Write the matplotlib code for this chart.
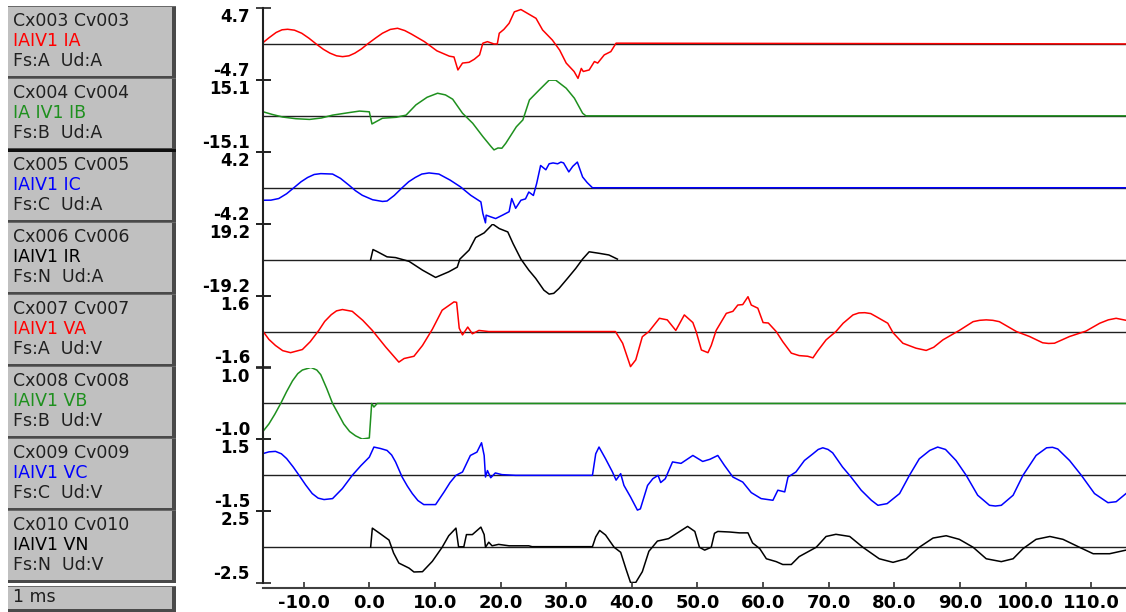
import matplotlib
matplotlib.use("Agg")
import matplotlib.pyplot as plt
from matplotlib.patches import Rectangle

W, H = 1126, 612

# panel captions for each recorded channel
cx_labels = ["Cx003 Cv003", "Cx004 Cv004", "Cx005 Cv005", "Cx006 Cv006",
             "Cx007 Cv007", "Cx008 Cv008", "Cx009 Cv009", "Cx010 Cv010"]
signal_names = ["IAIV1 IA", "IA IV1 IB", "IAIV1 IC", "IAIV1 IR",
                "IAIV1 VA", "IAIV1 VB", "IAIV1 VC", "IAIV1 VN"]
phase_units = ["Fs:A  Ud:A", "Fs:B  Ud:A", "Fs:C  Ud:A", "Fs:N  Ud:A",
               "Fs:A  Ud:V", "Fs:B  Ud:V", "Fs:C  Ud:V", "Fs:N  Ud:V"]
full_scale = [4.7, 15.1, 4.2, 19.2, 1.6, 1.0, 1.5, 2.5]
colors = ["#ff0000", "#1e901e", "#0000ff", "#000000",
          "#ff0000", "#1e901e", "#0000ff", "#000000"]
time_ticks = [-10, 0, 10, 20, 30, 40, 50, 60, 70, 80, 90, 100, 110]
time_range = (-16.2, 115.3)

# recorded traces, time in ms
ia_t = [-16.3, -15.3, -14.2, -13.3, -12.45, -11.4, -10.3, -9.2, -8.1, -7.0, -6.0,
        -5.0, -4.07, -3.1, -2.2, -1.2, -0.26, 1.0, 2.0, 3.2, 4.3, 5.4, 6.4, 7.4,
        8.4, 10.3, 12.2, 12.9, 13.5, 14.2, 15.2, 16.0, 16.8, 17.3, 18.0, 19.0, 19.5,
        19.8, 20.5, 21.3, 22.1, 23.1, 24.1, 25.4, 26.4, 27.9, 29.0, 30.0, 31.2, 31.8,
        32.3, 32.6, 33.5, 34.3, 34.8, 35.8, 36.8, 37.6, 115.3]
ia_v = [0.1, 0.8, 1.5, 1.85, 1.92, 1.8, 1.4, 0.75, 0.0, -0.7, -1.2,
        -1.55, -1.66, -1.55, -1.2, -0.65, 0.0, 0.8, 1.4, 1.9, 2.05, 1.75, 1.3, 0.8,
        0.3, -0.9, -1.6, -1.7, -3.4, -2.5, -2.4, -2.0, -1.43, 0.1, 0.3, 0.0, 0.0,
        1.4, 1.9, 2.7, 4.2, 4.5, 4.0, 3.35, 1.83, 0.5, -0.8, -2.5, -3.6, -4.5,
        -3.2, -3.6, -3.4, -2.3, -2.5, -1.43, -1.0, 0.1, 0.0]

ib_t = [-16.3, -14.8, -13.2, -11.2, -9.1, -7.3, -5.6, -3.0, -1.5, 0.0, 0.4, 2.0,
        4.1, 5.6, 7.1, 8.8, 10.4, 11.6, 12.7, 14.2, 15.75, 17.3, 18.55, 19.0, 19.6,
        20.2, 20.8, 22.4, 23.4, 24.4, 25.9, 27.4, 28.4, 30.0, 31.25, 32.5, 33.0,
        115.3]
ib_v = [1.8, 0.6, -0.5, -1.2, -1.5, -0.9, 0.3, 1.4, 2.0, 1.7, -3.4, -1.0,
        -0.6, 0.3, 4.6, 7.8, 9.5, 8.8, 7.0, 1.1, -3.1, -8.7, -12.9, -14.3, -13.5,
        -13.6, -11.5, -4.6, -1.7, 6.7, 10.9, 15.0, 15.0, 11.6, 7.4, 1.1, 0.0,
        0.0]

ic_t = [-16.3, -15.0, -13.8, -12.6, -11.5, -10.4, -9.4, -8.4, -7.4, -5.6, -4.4,
        -3.1, -2.1, -1.07, 0.5, 2.0, 2.7, 3.8, 5.0, 6.0, 7.0, 8.0, 9.1, 10.6, 12.3,
        13.9, 15.45, 17.0, 17.3, 17.7, 17.8, 18.5, 19.25, 20.3, 21.3, 21.7, 22.3,
        23.1, 23.8, 24.3, 25.0, 25.5, 26.1, 26.9, 27.4, 28.0, 28.7, 29.2, 29.6,
        30.4, 31.0, 31.7, 32.5, 33.2, 34.0, 115.3]
ic_v = [-1.46, -1.45, -1.26, -0.7, 0.0, 0.7, 1.2, 1.55, 1.65, 1.6, 1.1,
        0.3, -0.35, -0.88, -1.4, -1.6, -1.55, -0.9, 0.0, 0.7, 1.2, 1.6, 1.73, 1.6, 0.9,
        0.1, -0.88, -1.65, -3.0, -4.1, -3.2, -3.4, -3.6, -3.2, -2.8, -1.26, -2.4,
        -1.46, -1.3, -0.5, -0.9, 0.5, 2.6, 2.1, 2.8, 2.9, 2.8, 3.0, 2.9,
        1.85, 2.5, 3.0, 1.26, 0.6, 0.0, 0.0]

ir_t = [0.2, 0.56, 1.2, 2.7, 4.0, 6.05, 8.1, 10.1, 12.1, 13.4, 13.8, 15.2, 16.2,
        17.5, 18.8, 19.8, 21.1, 21.9, 23.1, 24.3, 25.35, 26.6, 27.4, 28.1, 28.9,
        30.2, 31.45, 32.5, 33.5, 35.0, 36.5, 37.8]
ir_v = [0.0, 5.4, 4.3, 1.5, 1.1, -0.9, -5.6, -9.5, -6.5, -4.0, 0.3, 5.1, 11.8,
        14.3, 19.0, 16.6, 14.8, 8.6, 0.3, -5.6, -10.0, -16.3, -18.4, -18.0, -15.4,
        -10.0, -4.7, 0.3, 4.2, 3.4, 2.5, 0.3]

va_t = [-16.3, -15.3, -14.3, -13.2, -12.0, -10.2, -9.0, -7.7, -6.8, -5.8, -5.0,
        -4.1, -2.6, -1.8, -1.0, 0.46, 2.5, 4.5,
        5.3, 6.8, 8.1, 9.6, 11.1, 12.9, 13.3, 13.7, 14.2, 15.0, 15.7, 16.7, 18.2,
        37.5, 38.6, 39.8, 40.6, 41.6, 42.6, 44.2, 45.4, 46.7, 48.0, 49.3, 49.8,
        50.6, 51.6, 52.1, 52.85, 54.4, 55.4, 56.15, 56.9, 57.7, 58.2, 59.2, 60.0,
        60.8, 62.0, 63.0, 64.3, 65.5, 66.8, 67.6, 68.3, 69.6, 71.1, 72.2, 73.7,
        74.6, 75.5, 76.4, 77.2, 79.0, 79.8, 81.3, 83.3, 84.85, 86.0, 87.4, 89.9,
        92.0, 93.0, 94.0, 95.0, 96.0, 98.6, 100.6, 102.6, 103.5, 104.4, 106.7,
        109.2, 111.3, 112.6, 113.8, 115.3]
va_v = [0.05, -0.35, -0.62, -0.85, -0.94, -0.8, -0.45, 0.05, 0.45, 0.75, 0.92,
        0.98, 0.9, 0.7, 0.5, 0.05, -0.69, -1.36,
        -1.2, -1.1, -0.62, 0.1, 0.95, 1.32, 1.3, 0.15, -0.15, 0.2, -0.1, 0.05, 0.0,
        0.0, -0.52, -1.56, -1.26, -0.23, 0.0, 0.59, 0.52, 0.05, 0.74, 0.4, 0.0,
        -0.82, -0.94, -0.62, 0.05, 0.81, 0.9, 1.18, 1.2, 1.55, 1.18, 1.04, 0.4,
        0.38, 0.0, -0.45, -0.96, -1.07, -1.1, -1.17, -0.87, -0.37, 0.0, 0.37, 0.74,
        0.83, 0.84, 0.8, 0.67, 0.37, -0.05, -0.52, -0.74, -0.84, -0.7, -0.37, 0.05,
        0.44, 0.5, 0.52, 0.5, 0.44, 0.0, -0.22, -0.5, -0.53, -0.52, -0.22,
        0.02, 0.37, 0.52, 0.59, 0.5]

vb_t = [-16.3, -15.3, -14.4, -13.5, -12.6, -11.7, -10.9, -10.2, -8.9, -8.0, -7.4,
        -6.5, -5.6, -4.7, -3.9, -3.0, -2.1, -1.1, 0.0, 0.36, 0.7, 1.2, 115.3]
vb_v = [-0.8, -0.57, -0.3, 0.0, 0.33, 0.63, 0.83, 0.93, 1.0, 0.93, 0.8,
        0.42, 0.0, -0.3, -0.57, -0.78, -0.9, -0.99, -0.96, 0.0, -0.1, 0.0, 0.0]

vc_t = [-16.3, -15.3, -14.3, -13.4, -12.6, -11.6, -10.7, -9.7, -8.7, -7.8, -6.9,
        -5.6, -4.1, -2.6, -1.3, 0.0, 0.7, 1.7, 2.7, 3.4, 4.0, 5.0, 5.8, 6.55, 7.4,
        8.3, 10.1, 11.4, 12.3, 13.2, 14.2, 15.4, 16.4, 17.1, 17.5, 17.7, 18.0, 18.5,
        19.2, 20.2, 22.3, 34.0, 34.5, 35.0, 36.0, 37.05, 37.6, 38.3, 38.8, 39.8,
        40.85, 41.3, 42.4, 43.2, 44.0, 44.4, 45.1, 46.2, 47.5, 49.3, 50.8, 51.9,
        53.1, 54.1, 55.4, 56.9, 58.2, 59.7, 61.5, 62.25, 63.3, 63.8, 65.0, 66.3,
        67.6, 68.4, 69.1, 69.9, 70.6, 72.1, 73.4, 74.95, 76.5, 77.5, 78.9, 80.8,
        82.3, 83.8, 85.4, 86.6, 87.8, 89.4, 90.95, 92.7, 94.5, 95.4, 96.3, 98.1,
        99.6, 101.6, 103.2, 104.1, 104.9, 106.7, 108.5, 110.5, 112.55, 113.8, 115.3]
vc_v = [0.9, 0.98, 1.0, 0.9, 0.7, 0.35, 0.0, -0.4, -0.76, -0.95, -1.01,
        -0.97, -0.55, 0.0, 0.4, 0.76, 1.18, 1.12, 1.04, 0.85, 0.56, -0.07, -0.45, -0.76, -1.05,
        -1.22, -1.22, -0.69, -0.3, 0.0, 0.14, 0.83, 0.97, 1.36, 0.83, -0.07, 0.2, -0.1,
        0.1, 0.03, 0.0, 0.0, 0.9, 1.18, 0.69, 0.14, -0.2, 0.07, -0.42, -0.9,
        -1.45, -1.4, -0.42, -0.14, 0.0, -0.3, -0.14, 0.56, 0.5, 0.83, 0.58, 0.67,
        0.83, 0.42, -0.07, -0.28, -0.72, -0.97, -1.04, -0.62, -0.69, -0.07, 0.14, 0.62,
        0.9, 1.08, 1.15, 1.08, 0.94, 0.35, -0.07, -0.62, -1.04, -1.25, -1.18, -0.76,
        0.0, 0.69, 1.04, 1.18, 1.08, 0.62, 0.0, -0.83, -1.25, -1.28, -1.25, -0.83,
        0.0, 0.83, 1.15, 1.17, 1.1, 0.62, 0.0, -0.76, -1.14, -1.1, -0.76]

vn_t = [0.2, 0.46, 1.7, 3.0, 3.7, 4.5, 6.05, 6.8, 8.1, 9.6, 11.1, 12.1, 13.2, 13.6,
        14.4, 14.8, 15.7, 17.0, 17.5, 17.7, 18.2, 18.7, 19.7, 21.3, 24.3, 24.8,
        34.0, 34.5, 35.1, 36.0, 37.3, 38.3, 39.1, 39.8, 40.6, 41.6, 42.6, 43.9,
        45.6, 47.3, 48.5, 49.6, 50.3, 51.1, 52.1, 52.6, 53.1, 54.9, 56.4, 57.7,
        58.4, 59.5, 60.5, 62.0, 63.0, 64.3, 65.5, 68.1, 69.6, 71.1, 73.2, 75.2,
        77.7, 79.8, 81.8, 83.8, 85.9, 87.9, 89.9, 92.0, 94.0, 96.3, 98.1, 99.6,
        101.6, 103.7, 105.7, 108.2, 110.3, 112.8, 115.3]
vn_v = [0.0, 1.33, 0.93, 0.5, -0.4, -1.1, -1.45, -1.72, -1.7, -0.98, 0.0, 0.8, 1.33, 0.03,
        0.03, 0.88, 0.88, 1.4, 0.88, 0.0, 0.35, 0.1, 0.2, 0.1, 0.1, 0.04,
        0.04, 0.72, 1.17, 0.85, 0.0, -0.35, -1.5, -2.45, -2.45, -1.7, -0.28, 0.43,
        0.6, 1.1, 1.45, 1.1, 0.0, -0.2, 0.0, 0.97, 1.1, 1.06, 1.0, 1.0,
        0.3, -0.1, -0.8, -1.0, -1.2, -1.2, -0.65, 0.0, 0.75, 0.9, 0.75, 0.0,
        -0.8, -1.05, -0.8, 0.0, 0.64, 0.8, 0.55, 0.0, -0.8, -1.0, -0.8, -0.1,
        0.55, 0.75, 0.55, 0.0, -0.45, -0.45, -0.2]

traces = [(ia_t, ia_v), (ib_t, ib_v), (ic_t, ic_v), (ir_t, ir_v),
          (va_t, va_v), (vb_t, vb_v), (vc_t, vc_v), (vn_t, vn_v)]

BAND_TOP = 8
BAND_H = 71.9
AX_LEFT = 263
AXIS_Y = 588


def fig_rect(x0, y0, w, h):
    # pixel box (top-left origin) -> figure fraction rect
    return [x0 / W, 1 - (y0 + h) / H, w / W, h / H]


def draw_panel(bg):
    for k in range(8):
        top = 7 + 72 * k
        bg.add_patch(Rectangle((8, top - 1), 168, 1.2, fc="#6a6a6a", ec="none"))
        bg.add_patch(Rectangle((8, top), 165, 69, fc="#c0c0c0", ec="none"))
        bg.add_patch(Rectangle((172, top), 4, 71.5, fc="#4a4a4a", ec="none"))
        bg.add_patch(Rectangle((8, top + 68.5), 168, 3, fc="#4a4a4a", ec="none"))
        bg.text(13, top + 13.5, cx_labels[k], va="center", ha="left",
                fontsize=12.5, color="#202020")
        bg.text(13, top + 34, signal_names[k], va="center", ha="left",
                fontsize=12.5, color=colors[k])
        bg.text(13, top + 54.5, phase_units[k], va="center", ha="left",
                fontsize=12.5, color="#202020")
    # heavier separator above the third channel
    bg.add_patch(Rectangle((8, 149), 168, 3, fc="#101010", ec="none"))
    # time base box
    bg.add_patch(Rectangle((8, 586), 168, 1.2, fc="#6a6a6a", ec="none"))
    bg.add_patch(Rectangle((8, 587), 165, 22, fc="#c0c0c0", ec="none"))
    bg.add_patch(Rectangle((172, 587), 4, 24, fc="#4a4a4a", ec="none"))
    bg.add_patch(Rectangle((8, 608.5), 168, 3, fc="#4a4a4a", ec="none"))
    bg.text(13, 597.5, "1 ms", va="center", ha="left", fontsize=12.5, color="#202020")


def draw_channel(fig, k):
    top = BAND_TOP + BAND_H * k
    ax = fig.add_axes(fig_rect(AX_LEFT, top, W - AX_LEFT, BAND_H))
    ax.set_facecolor("none")
    m = full_scale[k]
    t, v = traces[k]
    ax.axhline(0, color="#202020", lw=1.0, zorder=1)
    ax.plot(t, v, color=colors[k], lw=1.1, zorder=2)
    ax.set_xlim(*time_range)
    ax.set_ylim(-m, m)
    for side in ("top", "right", "bottom"):
        ax.spines[side].set_visible(False)
    ax.spines["left"].set_color("#202020")
    ax.spines["left"].set_linewidth(1.5)
    ax.set_xticks([])
    ax.set_yticks([-m, m])
    labels = ax.set_yticklabels([f"-{m:.1f}", f"{m:.1f}"], fontweight="bold")
    labels[0].set_va("bottom")
    labels[1].set_va("top")
    ax.tick_params(axis="y", direction="inout", length=10.8, width=1.2,
                   color="#202020", pad=4, labelsize=12)
    return ax


def draw_time_axis(fig):
    ax = fig.add_axes(fig_rect(AX_LEFT, AXIS_Y - 1, W - AX_LEFT, 1))
    ax.set_facecolor("none")
    ax.set_xlim(*time_range)
    ax.set_yticks([])
    for side in ("top", "right", "left"):
        ax.spines[side].set_visible(False)
    ax.spines["bottom"].set_color("#404040")
    ax.spines["bottom"].set_linewidth(1.5)
    ax.set_xticks(time_ticks)
    ax.set_xticklabels([f"{x:.1f}" for x in time_ticks], fontweight="bold")
    ax.tick_params(axis="x", direction="in", length=4.5, width=1.2,
                   color="#303030", pad=4, labelsize=13)
    zero_tick = ax.xaxis.get_major_ticks()[time_ticks.index(0)]
    zero_tick.tick1line.set_color("#ff0000")


def main():
    fig = plt.figure(figsize=(W / 100, H / 100), dpi=100)
    fig.patch.set_facecolor("white")
    bg = fig.add_axes([0, 0, 1, 1])
    bg.set_xlim(0, W)
    bg.set_ylim(H, 0)
    bg.axis("off")
    draw_panel(bg)
    for k in range(8):
        draw_channel(fig, k)
    draw_time_axis(fig)
    fig.savefig("out.png", dpi=100)


if __name__ == "__main__":
    main()
